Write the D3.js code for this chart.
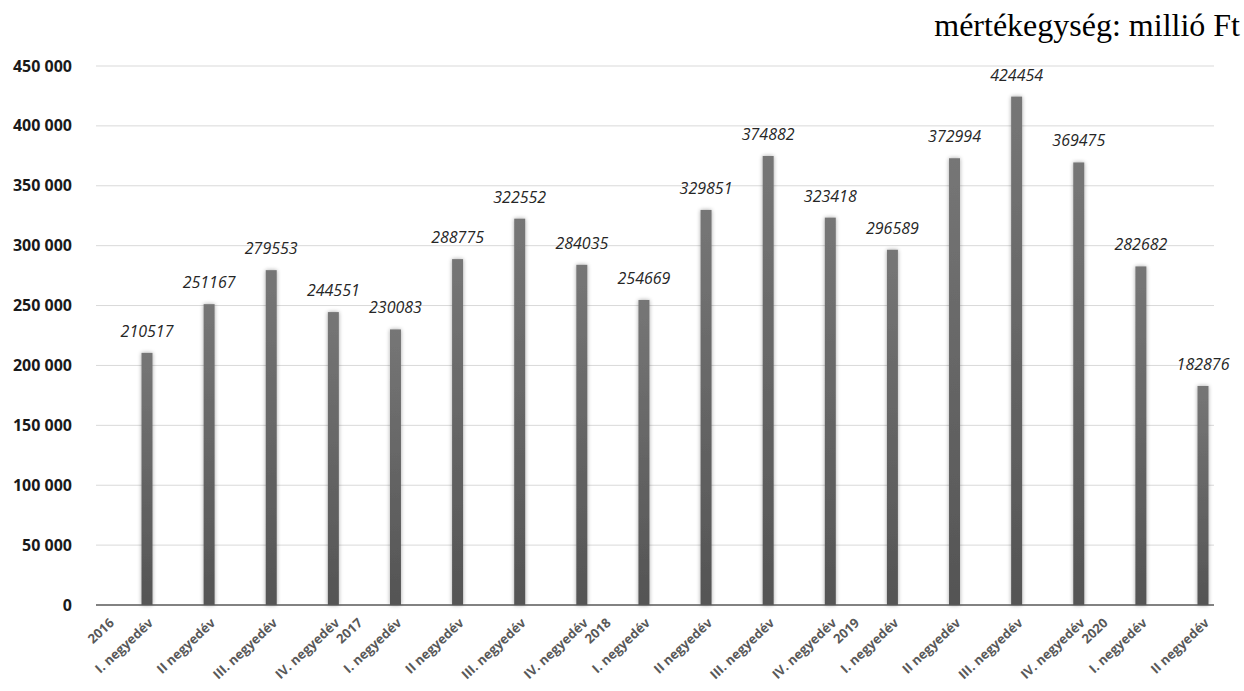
<!DOCTYPE html>
<html><head><meta charset="utf-8">
<script src="https://cdn.jsdelivr.net/npm/d3@7"></script>
<style>body{margin:0;background:#fff;}svg{display:block;}</style>
</head><body>
<svg id="c" width="1244" height="691"></svg>
<script>
const categories = ["I. negyedév","II negyedév","III. negyedév","IV. negyedév",
  "I. negyedév","II negyedév","III. negyedév","IV. negyedév",
  "I. negyedév","II negyedév","III. negyedév","IV. negyedév",
  "I. negyedév","II negyedév","III. negyedév","IV. negyedév",
  "I. negyedév","II negyedév"];
const values = [210517,251167,279553,244551,230083,288775,322552,284035,254669,329851,374882,323418,296589,372994,424454,369475,282682,182876];
const years = ["2016","2017","2018","2019","2020"];
const yearIndex = [0,4,8,12,16];
const yTicks = [0,50000,100000,150000,200000,250000,300000,350000,400000,450000];
const unitText = "mértékegység: millió Ft";

const svg = d3.select("#c");
const defs = svg.append("defs");
const g = defs.append("linearGradient").attr("id","bg").attr("x1",0).attr("y1",0).attr("x2",0).attr("y2",1);
g.append("stop").attr("offset","0%").attr("stop-color","#767676");
g.append("stop").attr("offset","100%").attr("stop-color","#545454");
const f = defs.append("filter").attr("id","sh").attr("x","-100%").attr("y","-10%").attr("width","300%").attr("height","120%");
f.append("feGaussianBlur").attr("in","SourceAlpha").attr("stdDeviation",2.2).attr("result","b");
f.append("feComponentTransfer").attr("in","b").attr("result","o2").append("feFuncA").attr("type","linear").attr("slope",0.35);
const m = f.append("feMerge"); m.append("feMergeNode").attr("in","o2"); m.append("feMergeNode").attr("in","SourceGraphic");

const x0 = 96, x1 = 1214;
const y = d3.scaleLinear().domain([0,450000]).range([605,66]);
const xp = d3.scaleLinear().domain([0,17]).range([147,1203]);
const idx = d3.range(categories.length);

// gridlines
svg.append("g").selectAll("line").data(yTicks.filter(d=>d>0)).join("line")
  .attr("x1",x0).attr("x2",x1).attr("y1",d=>y(d)).attr("y2",d=>y(d))
  .attr("stroke","#d9d9d9").attr("stroke-width",1);

// y labels
const fmt = d => d3.format(",")(d).replace(/,/g," ");
svg.append("g").selectAll("text").data(yTicks).join("text")
  .attr("x",72).attr("y",d=>y(d)).attr("dy","0.35em").attr("text-anchor","end")
  .attr("font-family","'Open Sans', sans-serif").attr("font-weight","bold").attr("font-size",16)
  .attr("fill","#1a1a1a").text(fmt);

// bars
const bw = 11;
svg.append("g").selectAll("rect").data(idx).join("rect")
  .attr("x",i=>xp(i)-bw/2).attr("width",bw)
  .attr("y",i=>y(values[i])).attr("height",i=>y(0)-y(values[i]))
  .attr("fill","url(#bg)").attr("filter","url(#sh)");

// axis line
svg.append("line").attr("x1",x0).attr("x2",x1).attr("y1",y(0)).attr("y2",y(0))
  .attr("stroke","#595959").attr("stroke-width",1.5);

// value labels
svg.append("g").selectAll("text").data(idx).join("text")
  .attr("x",i=>xp(i)).attr("y",i=>y(values[i])-16)
  .attr("text-anchor","middle").attr("font-family","'Open Sans', sans-serif")
  .attr("font-style","italic").attr("font-size",16).attr("fill","#262626")
  .text(i=>values[i]);

// category labels
svg.append("g").selectAll("text").data(idx).join("text")
  .attr("transform",i=>`translate(${xp(i)+7},${624}) rotate(-43)`)
  .attr("text-anchor","end").attr("font-family","'Open Sans', sans-serif")
  .attr("font-weight","bold").attr("font-size",13).attr("fill","#595959")
  .text(i=>categories[i]);

// year labels
svg.append("g").selectAll("text").data(years).join("text")
  .attr("transform",(d,k)=>`translate(${xp(yearIndex[k]-0.63)+7},${624}) rotate(-43)`)
  .attr("text-anchor","end").attr("font-family","'Open Sans', sans-serif")
  .attr("font-weight","bold").attr("font-size",13).attr("fill","#595959")
  .text(d=>d);

// unit text
svg.append("text").attr("x",1240).attr("y",36).attr("text-anchor","end")
  .attr("font-family","'Liberation Serif', 'Times New Roman', serif").attr("font-size",32)
  .attr("fill","#000").text(unitText);
</script>
</body></html>
